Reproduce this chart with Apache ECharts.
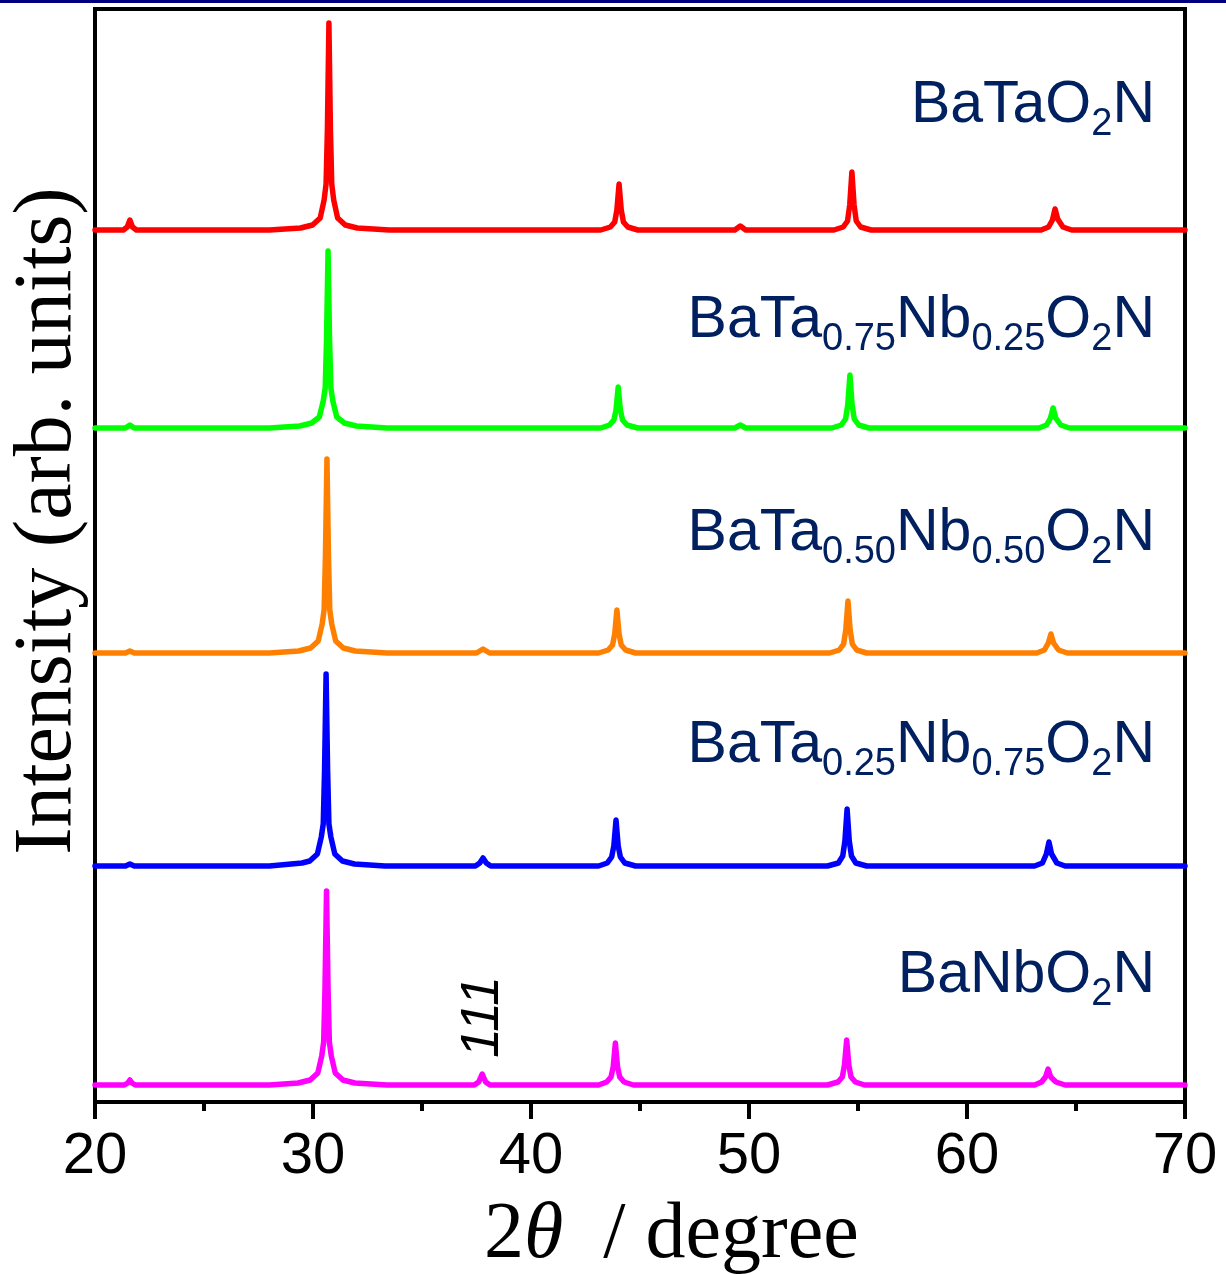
<!DOCTYPE html>
<html>
<head>
<meta charset="utf-8">
<title>XRD BaTa(1-x)NbxO2N</title>
<script src="https://cdn.jsdelivr.net/npm/echarts@6/dist/echarts.min.js"></script>
<style>
  html, body { margin: 0; padding: 0; background: #fff; }
  #chart { width: 1226px; height: 1275px; }
</style>
</head>
<body>
<div id="chart"></div>
<script>
// [2theta, intensity above own baseline]
const batao2nPts = [
  [20, 0], [21.3, 0], [21.48, 3], [21.6, 10], [21.72, 3], [21.9, 0],
  [28.0, 0], [29.43, 2], [29.98, 5], [30.33, 12], [30.51, 30], [30.6, 46], [30.66, 100], [30.73, 207],
  [30.8, 100], [30.86, 46], [30.95, 30], [31.13, 12], [31.48, 5], [32.03, 2], [33.5, 0],
  [43.2, 0], [43.64, 3], [43.84, 8], [43.94, 20], [44.04, 46], [44.14, 20], [44.24, 8], [44.44, 3], [44.9, 0],
  [49.35, 0], [49.6, 4], [49.85, 0],
  [53.9, 0], [54.32, 3], [54.52, 9], [54.62, 25], [54.72, 58], [54.82, 25], [54.92, 9], [55.12, 3], [55.6, 0],
  [63.4, 0], [63.74, 3], [63.92, 10], [64.04, 21], [64.16, 11], [64.4, 3], [64.8, 0],
  [70, 0],
]
const nb25Pts = [
  [20, 0], [21.4, 0], [21.6, 3], [21.8, 0],
  [28.0, 0], [29.39, 2], [29.94, 5], [30.29, 11], [30.47, 27], [30.56, 40], [30.62, 88], [30.69, 177],
  [30.76, 88], [30.82, 40], [30.91, 27], [31.09, 11], [31.44, 5], [31.99, 2], [33.4, 0],
  [43.2, 0], [43.6, 3], [43.8, 8], [43.9, 18], [44.0, 41], [44.1, 18], [44.2, 8], [44.4, 3], [44.9, 0],
  [49.35, 0], [49.6, 3], [49.85, 0],
  [53.8, 0], [54.23, 3], [54.43, 9], [54.53, 23], [54.63, 53], [54.73, 23], [54.83, 9], [55.03, 3], [55.5, 0],
  [63.3, 0], [63.65, 3], [63.83, 10], [63.95, 20], [64.07, 10], [64.3, 3], [64.7, 0],
  [70, 0],
]
const nb50Pts = [
  [20, 0], [21.4, 0], [21.6, 2], [21.8, 0],
  [28.0, 0], [29.34, 2], [29.89, 5], [30.24, 12], [30.42, 29], [30.51, 43], [30.57, 97], [30.64, 194],
  [30.71, 97], [30.77, 43], [30.86, 29], [31.04, 12], [31.39, 5], [31.94, 2], [33.4, 0],
  [37.5, 0], [37.8, 4], [38.1, 0],
  [43.1, 0], [43.54, 3], [43.74, 8], [43.84, 19], [43.94, 43], [44.04, 19], [44.14, 8], [44.34, 3], [44.8, 0],
  [53.7, 0], [54.14, 3], [54.34, 9], [54.44, 23], [54.54, 52], [54.64, 23], [54.74, 9], [54.94, 3], [55.4, 0],
  [63.2, 0], [63.55, 3], [63.73, 10], [63.85, 19], [63.97, 10], [64.2, 3], [64.6, 0],
  [70, 0],
]
const nb75Pts = [
  [20, 0], [21.4, 0], [21.6, 2], [21.8, 0],
  [28.0, 0], [29.0, 2], [29.5, 3], [29.85, 5], [30.2, 12], [30.38, 29], [30.47, 42], [30.53, 96], [30.6, 192],
  [30.67, 96], [30.73, 42], [30.82, 29], [31.0, 12], [31.35, 5], [31.9, 2], [33.3, 0],
  [37.45, 0], [37.65, 3], [37.8, 8], [37.95, 3], [38.15, 0],
  [43.1, 0], [43.5, 3], [43.7, 9], [43.8, 20], [43.9, 46], [44.0, 20], [44.1, 9], [44.3, 3], [44.8, 0],
  [53.6, 0], [54.1, 3], [54.3, 10], [54.4, 25], [54.5, 57], [54.6, 25], [54.7, 10], [54.9, 3], [55.4, 0],
  [63.1, 0], [63.46, 3], [63.64, 12], [63.76, 24], [63.88, 12], [64.12, 3], [64.5, 0],
  [70, 0],
]
const banbo2nPts = [
  [20, 0], [21.35, 0], [21.5, 2], [21.6, 5], [21.7, 2], [21.85, 0],
  [28.0, 0], [29.32, 2], [29.87, 5], [30.22, 12], [30.4, 29], [30.49, 43], [30.55, 97], [30.62, 194],
  [30.69, 97], [30.75, 43], [30.84, 29], [31.02, 12], [31.37, 5], [31.92, 2], [33.4, 0],
  [37.4, 0], [37.6, 3], [37.76, 11], [37.92, 3], [38.12, 0],
  [43.1, 0], [43.47, 3], [43.67, 8], [43.77, 18], [43.87, 42], [43.97, 18], [44.07, 8], [44.27, 3], [44.7, 0],
  [53.6, 0], [54.08, 3], [54.28, 8], [54.38, 20], [54.48, 45], [54.58, 20], [54.68, 8], [54.88, 3], [55.3, 0],
  [63.1, 0], [63.42, 3], [63.6, 8], [63.72, 16], [63.84, 8], [64.08, 3], [64.5, 0],
  [70, 0],
]

const sampleNames = ['BaTaO2N', 'BaTa0.75Nb0.25O2N', 'BaTa0.50Nb0.50O2N', 'BaTa0.25Nb0.75O2N', 'BaNbO2N']
const samplePts = [batao2nPts, nb25Pts, nb50Pts, nb75Pts, banbo2nPts]
const sampleOffsets = [872, 674, 449, 236, 17] // vertical stacking
const sampleColors = ['#ff0000', '#00ff00', '#ff8000', '#0000ff', '#ff00ff']
// label text as rich tokens: [main, sub, main, sub, ...]
const sampleLabels = [
  ['BaTaO', '2', 'N'],
  ['BaTa', '0.75', 'Nb', '0.25', 'O', '2', 'N'],
  ['BaTa', '0.50', 'Nb', '0.50', 'O', '2', 'N'],
  ['BaTa', '0.25', 'Nb', '0.75', 'O', '2', 'N'],
  ['BaNbO', '2', 'N'],
]
const labelBaselines = [123, 338, 551, 763, 993]

const chart = echarts.init(document.getElementById('chart'))

const richText = parts => parts.map((p, i) => `{${i % 2 ? 's' : 'm'}|${p}}`).join('')

// main tokens hang from the top of the line, subscripts sit on its bottom
const labelGraphics = sampleLabels.map((parts, i) => ({
  type: 'text',
  x: 1155,
  y: labelBaselines[i] - 47,
  style: {
    text: richText(parts),
    align: 'right',
    verticalAlign: 'top',
    rich: {
      m: { fontSize: 59, fontFamily: 'Liberation Sans', fill: '#002060', lineHeight: 68, verticalAlign: 'top' },
      s: { fontSize: 38, fontFamily: 'Liberation Sans', fill: '#002060', verticalAlign: 'bottom' },
    },
  },
}))

chart.setOption({
  animation: false,
  backgroundColor: '#fff',
  grid: {
    left: 95, right: 41, top: 9, bottom: 173,
    show: true, borderColor: '#000', borderWidth: 4,
    outerBoundsMode: 'none',
  },
  xAxis: {
    type: 'value',
    min: 20,
    max: 70,
    interval: 10,
    axisLine: { show: true, lineStyle: { color: '#000', width: 4 } },
    axisTick: { show: true, length: 17, lineStyle: { color: '#000', width: 4 } },
    minorTick: { show: true, splitNumber: 2, length: 9, lineStyle: { color: '#000', width: 4 } },
    axisLabel: { fontSize: 58, fontFamily: 'Liberation Sans', color: '#000', margin: 26 },
    splitLine: { show: false },
  },
  yAxis: {
    type: 'value',
    min: 0,
    max: 1093,
    show: false,
  },
  series: samplePts.map((pts, i) => ({
    name: sampleNames[i],
    type: 'line',
    showSymbol: false,
    clip: true,
    data: pts.map(([x, h]) => [x, h + sampleOffsets[i]]),
    lineStyle: { color: sampleColors[i], width: 5.5, cap: 'round', join: 'round' },
  })),
  graphic: [
    // navy rule along the very top
    { type: 'rect', shape: { x: 0, y: 0, width: 1226, height: 3 }, style: { fill: '#000080' } },
    ...labelGraphics,
    {
      type: 'text',
      x: 483, y: 1017,
      rotation: Math.PI / 2,
      style: { text: '111', font: 'italic 54px "Liberation Sans"', fill: '#000', align: 'center', verticalAlign: 'middle' },
    },
    {
      type: 'text',
      x: 48, y: 521,
      rotation: Math.PI / 2,
      style: { text: 'Intensity (arb. units)', font: '82px "Liberation Serif"', fill: '#000', align: 'center', verticalAlign: 'middle' },
    },
    {
      type: 'text',
      x: 484, y: 1236,
      style: {
        text: '{n|2}{i|θ}{n|  / degree}',
        align: 'left',
        verticalAlign: 'middle',
        rich: {
          n: { fontSize: 80, fontFamily: 'Liberation Serif', fill: '#000', lineHeight: 90 },
          i: { fontSize: 80, fontFamily: 'Liberation Serif', fontStyle: 'italic', fill: '#000', lineHeight: 90 },
        },
      },
    },
  ],
})
</script>
</body>
</html>
